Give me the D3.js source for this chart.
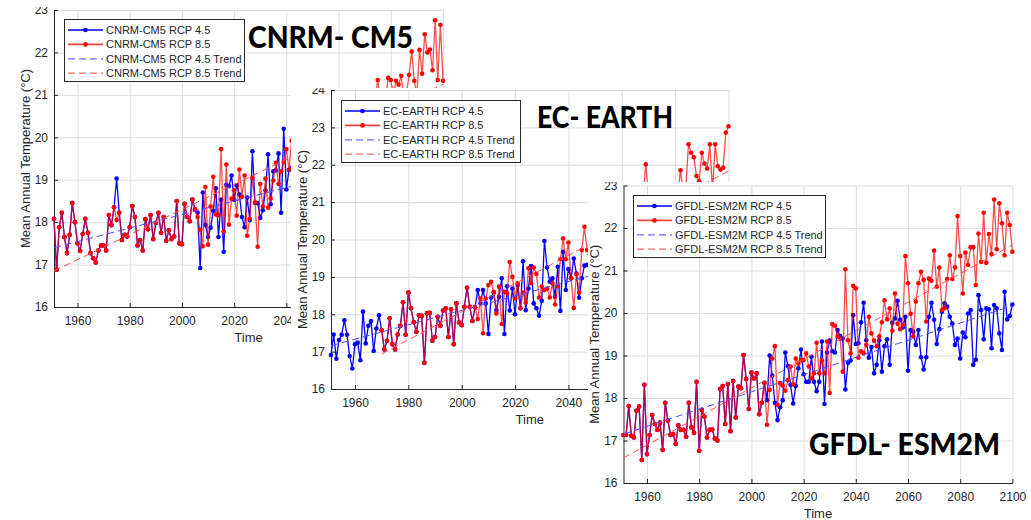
<!DOCTYPE html>
<html lang="en">
<head>
<meta charset="utf-8">
<title>Mean annual temperature, three models</title>
<script src="https://cdn.jsdelivr.net/npm/d3@7"></script>
<style>
  body { margin: 0; background: #fff; }
  svg { display: block; }
  .lbl { font-family: "Liberation Sans", Arial, sans-serif; fill: #262626; }
  .title { font-family: Lato, "Open Sans", sans-serif; font-weight: 900; fill: #000; }
</style>
</head>
<body>
<svg id="chart"></svg>
<script>
// ---- data ----
const xTicks = [1960, 1980, 2000, 2020, 2040, 2060, 2080, 2100];
const trendYears = [1951, 2100];
const ecTrend85Years = [1970, 2100];

// CNRM-CM5: historical 1951-2005 (4.5 and 8.5 runs differ only in 1975)
const cnrmHist45 = [18.08,16.88,17.88,18.22,17.65,17.27,17.70,18.45,18.00,17.50,
  17.32,17.72,18.08,17.75,17.27,17.15,17.05,17.33,17.45,17.45,
  17.33,18.17,17.93,18.35,19.03,18.22,17.58,17.70,17.66,17.88,
  18.38,18.12,17.45,17.58,17.33,18.07,17.83,18.17,17.60,17.98,
  18.22,17.75,18.12,17.56,17.81,17.60,17.66,18.50,17.50,17.48,
  18.43,18.12,18.02,18.53,18.30];
const cnrmHist85 = [18.08,16.88,17.88,18.22,17.65,17.27,17.70,18.45,18.00,17.50,
  17.32,17.72,18.08,17.75,17.27,17.15,17.05,17.33,17.45,17.45,
  17.33,18.17,17.93,18.35,18.05,18.22,17.58,17.70,17.66,17.88,
  18.38,18.12,17.45,17.58,17.33,18.07,17.83,18.17,17.60,17.98,
  18.22,17.75,18.12,17.56,17.81,17.60,17.66,18.50,17.50,17.48,
  18.43,18.12,18.02,18.53,18.30];
// 2006-2043 (rest hidden behind the next panel)
const cnrm45 = [18.22,16.92,18.70,17.93,17.65,17.87,18.27,18.80,17.65,18.53,
  17.30,18.88,18.85,19.10,18.53,18.87,18.65,18.12,17.88,18.58,
  18.05,19.67,18.45,18.45,18.10,18.28,18.75,19.60,18.42,19.20,
  19.22,19.62,18.22,20.20,18.77,19.23,19.28,19.06];
const cnrm85 = [18.12,17.82,17.43,18.83,17.47,18.37,19.07,18.18,18.17,19.72,
  17.78,19.36,17.94,18.55,18.75,18.15,19.24,18.60,19.10,17.68,
  18.08,19.04,18.47,17.42,18.90,18.37,19.03,18.34,18.56,18.98,
  19.40,18.90,19.20,19.42,19.72,19.24,19.92,19.50];
// 2074-2100, the part that shows above the EC-EARTH panel
const cnrm85Late = [20.90,21.35,20.90,21.00,20.90,21.40,21.35,21.00,21.33,21.24,
  21.45,20.90,21.00,21.47,22.02,21.33,21.00,22.06,21.50,22.43,
  22.00,22.07,21.58,22.76,21.35,22.65,21.33];
const cnrmTrend45 = [17.40, 19.77];
const cnrmTrend85 = [16.85, 21.25];

// EC-EARTH: historical 1951-2005 (the 8.5 run starts in 1970)
const ecHist = [16.91,17.46,16.81,17.31,17.45,17.84,17.45,16.88,16.55,17.20,
  17.24,16.77,18.07,17.22,17.69,17.82,17.02,17.62,17.97,17.57,
  17.06,17.29,17.89,17.20,17.06,17.46,17.69,18.32,17.45,18.58,
  18.16,17.79,17.53,17.97,17.96,16.70,18.03,18.04,17.29,17.39,
  17.93,17.69,18.10,18.16,17.39,18.13,17.20,18.29,17.78,17.71,
  18.20,18.71,18.20,17.82,18.18];
// 2006-2047
const ec45 = [18.65,18.30,18.65,18.29,17.47,18.45,18.58,18.11,18.47,18.96,
  17.47,18.75,18.10,18.69,18.00,18.78,18.16,19.42,18.11,18.69,
  19.29,18.29,18.16,17.96,18.36,19.96,19.25,18.87,18.96,18.47,
  19.27,18.09,19.67,18.65,19.21,18.96,19.49,19.09,18.44,18.96,
  19.30,19.32];
// 2006-2048
const ec85 = [17.87,18.42,17.49,18.42,18.78,18.87,18.60,18.02,18.74,17.74,
  18.60,18.56,19.40,19.00,18.42,18.83,18.16,18.58,18.31,19.23,
  18.83,19.25,19.08,18.45,18.74,18.65,18.69,18.45,18.83,18.26,
  18.75,19.47,20.03,19.47,19.92,18.96,18.17,19.07,18.58,19.72,
  20.34,19.72,19.60];
const ec85Mid = [21.20,22.01,21.20];            // 2068-2070
const ec85Late = [21.20,21.85,21.30,21.40,22.55,22.32,22.20,21.70,21.56,22.32,
  22.03,21.90,22.55,21.30,22.55,21.96,21.87,21.92,22.86,23.03]; // 2081-2100
const ecTrend45 = [17.16, 20.03];
const ecTrend85 = [16.94, 21.83];

// GFDL-ESM2M: historical 1951-2005 shared by both runs
const gfdlHist = [17.13,17.13,17.81,17.11,17.07,17.70,17.80,16.54,18.31,16.68,
  17.13,17.60,17.39,17.25,17.42,16.78,17.89,17.47,17.13,17.15,
  16.92,17.36,17.25,17.25,17.09,17.89,17.31,17.18,18.38,16.76,
  17.72,17.56,17.07,17.25,17.26,17.05,17.00,18.21,18.28,17.39,
  18.33,17.22,18.40,17.54,18.27,18.23,19.01,18.45,17.74,18.60,
  18.46,18.58,17.62,17.89,18.36];
// 2006-2100
const gfdl45 = [17.95,19.00,18.53,17.89,17.48,17.78,17.95,19.07,18.75,18.31,
  17.87,18.28,18.70,19.14,18.56,18.38,18.38,18.97,18.38,18.16,
  18.38,19.33,17.86,19.07,19.35,19.10,19.07,19.60,19.46,19.40,
  18.20,18.83,18.88,19.95,19.27,19.29,19.78,20.24,19.36,18.95,
  19.20,18.58,18.78,19.36,18.62,19.22,19.38,18.78,19.77,19.87,
  20.29,19.84,19.66,19.91,18.64,19.60,19.56,19.25,19.60,18.96,
  18.67,18.96,19.91,20.24,19.84,19.27,19.62,20.03,20.23,20.15,
  19.91,19.75,19.25,19.40,18.93,19.54,19.43,19.99,20.07,18.78,
  18.90,20.42,20.07,19.38,20.11,20.09,19.17,20.19,20.11,19.52,
  19.13,20.50,19.85,19.93,20.20];
const gfdl85 = [17.37,18.19,18.93,19.22,17.84,18.35,18.29,18.17,18.42,18.74,
  18.32,18.93,18.81,18.89,18.89,19.05,18.74,18.46,18.58,19.30,
  18.58,18.88,18.58,19.33,18.12,19.74,19.70,19.45,19.40,18.62,
  21.03,19.36,19.05,20.64,20.58,18.95,19.10,19.05,19.25,19.91,
  19.52,19.35,19.22,19.45,19.78,20.30,19.85,20.11,19.58,20.46,
  19.75,19.62,19.72,21.34,20.70,19.98,19.45,20.27,20.70,20.97,
  20.78,19.80,20.81,20.76,21.47,20.62,21.07,20.07,20.11,20.80,
  21.36,20.80,21.07,22.28,21.34,20.46,21.42,21.13,21.55,21.55,
  20.66,21.87,21.20,22.36,21.18,21.86,21.39,22.67,21.50,22.58,
  22.11,21.36,22.36,22.07,21.44];
const gfdlTrend45 = [17.15, 20.17];
const gfdlTrend85 = [16.59, 21.60];

// ---- layout ----
const W = 1031, H = 520;
const panels = [
  { name: "CNRM-CM5", title: "CNRM- CM5", yMax: 23,
    hist45: cnrmHist45, hist85: cnrmHist85, red0: 1951, r45: cnrm45, r85: cnrm85,
    extra85: [{ start: 2074, values: cnrm85Late }],
    t45: cnrmTrend45, t85: cnrmTrend85, t85Years: trendYears,
    box: { x: 0, y: 7, w: W, h: H - 7 }, plot: { l: 54, r: 443, t: 10, b: 307 }, coverX: 291,
    legend: { x: 64, y: 19, w: 180 }, head: { x: 248, y: 48, w: 165 } },
  { name: "EC-EARTH", title: "EC- EARTH", yMax: 24,
    hist45: ecHist, hist85: ecHist, red0: 1970, r45: ec45, r85: ec85,
    extra85: [{ start: 2068, values: ec85Mid }, { start: 2081, values: ec85Late }],
    t45: ecTrend45, t85: ecTrend85, t85Years: ecTrend85Years,
    box: { x: 291, y: 88, w: 454, h: 352 }, plot: { l: 331, r: 728.5, t: 90, b: 389 }, coverX: 588,
    legend: { x: 341, y: 100, w: 179 }, head: { x: 537, y: 128, w: 136 } },
  { name: "GFDL-ESM2M", title: "GFDL- ESM2M", yMax: 23,
    hist45: gfdlHist, hist85: gfdlHist, red0: 1951, r45: gfdl45, r85: gfdl85,
    extra85: [],
    t45: gfdlTrend45, t85: gfdlTrend85, t85Years: trendYears,
    box: { x: 588, y: 182, w: 443, h: 338 }, plot: { l: 623.5, r: 1012.4, t: 185.5, b: 483 }, coverX: W,
    legend: { x: 633, y: 195, w: 192 }, head: { x: 809, y: 455, w: 191 } }
];

const BLUE = "#0000ff", RED = "#ff0000";
const AX = "#262626", GRID = "#dedede";

const svg = d3.select("#chart").attr("width", W).attr("height", H);
svg.append("rect").attr("width", W).attr("height", H).attr("fill", "#fff");
const defs = svg.append("defs");

function pts(start, values) {
  return values.map((v, i) => ({ year: start + i, v: v }));
}

panels.forEach(function (p, k) {
  defs.append("clipPath").attr("id", "clip" + k)
    .append("rect")
    .attr("x", p.box.x).attr("y", p.box.y)
    .attr("width", p.box.w).attr("height", p.box.h);

  const g = svg.append("g").attr("clip-path", "url(#clip" + k + ")");
  g.append("rect")
    .attr("x", p.box.x).attr("y", p.box.y)
    .attr("width", p.box.w).attr("height", p.box.h)
    .attr("fill", "#fff");

  const x = d3.scaleLinear().domain([1951, 2100]).range([p.plot.l, p.plot.r]);
  const y = d3.scaleLinear().domain([16, p.yMax]).range([p.plot.b, p.plot.t]);
  const yTicks = d3.range(16, p.yMax + 1);
  const pw = p.plot.r - p.plot.l, ph = p.plot.b - p.plot.t;

  // grid
  g.append("g")
    .attr("transform", "translate(0," + p.plot.b + ")")
    .call(d3.axisBottom(x).tickValues(xTicks).tickSize(-ph).tickFormat(""))
    .call(s => s.select(".domain").remove())
    .selectAll("line").attr("stroke", GRID);
  g.append("g")
    .attr("transform", "translate(" + p.plot.l + ",0)")
    .call(d3.axisLeft(y).tickValues(yTicks).tickSize(-pw).tickFormat(""))
    .call(s => s.select(".domain").remove())
    .selectAll("line").attr("stroke", GRID);

  // axes (MATLAB style: ticks point inward)
  const xa = g.append("g")
    .attr("transform", "translate(0," + p.plot.b + ")")
    .call(d3.axisBottom(x).tickValues(xTicks).tickSize(-4).tickSizeOuter(0).tickPadding(9).tickFormat(d3.format("d")));
  const ya = g.append("g")
    .attr("transform", "translate(" + p.plot.l + ",0)")
    .call(d3.axisLeft(y).tickValues(yTicks).tickSize(-4).tickSizeOuter(0).tickPadding(6).tickFormat(d3.format("d")));
  [xa, ya].forEach(function (a) {
    a.select(".domain").attr("stroke", AX);
    a.selectAll(".tick line").attr("stroke", AX);
    a.selectAll("text").attr("class", "lbl").attr("font-size", 12);
  });
  // year labels that sit fully under the next panel are never seen
  xa.selectAll(".tick text").filter(d => x(d) - 14 > p.coverX).remove();

  g.append("text").attr("class", "lbl")
    .attr("x", (p.plot.l + p.plot.r) / 2).attr("y", p.plot.b + 35)
    .attr("text-anchor", "middle").attr("font-size", 13).text("Time");
  g.append("text").attr("class", "lbl")
    .attr("transform", "translate(" + (p.plot.l - 29) + "," + ((p.plot.t + p.plot.b) / 2) + ") rotate(-90)")
    .attr("text-anchor", "middle").attr("dy", "0.35em").attr("font-size", 13)
    .text("Mean Annual Temperature (°C)");

  // data
  const line = d3.line().x(d => x(d.year)).y(d => y(d.v));
  const blue = [pts(1951, p.hist45).concat(pts(2006, p.r45))];
  const red = [pts(p.red0, p.hist85.slice(p.red0 - 1951)).concat(pts(2006, p.r85))]
    .concat(p.extra85.map(s => pts(s.start, s.values)));

  function series(segs, color, op) {
    const s = g.append("g");
    s.selectAll("path").data(segs).join("path")
      .attr("d", line).attr("fill", "none")
      .attr("stroke", color).attr("stroke-width", 1.3).attr("stroke-opacity", op);
    s.selectAll("circle").data(segs.flat()).join("circle")
      .attr("cx", d => x(d.year)).attr("cy", d => y(d.v))
      .attr("r", 2.3).attr("fill", color);
  }
  series(blue, BLUE, 1);
  series(red, RED, 0.7);

  // trend lines
  const trend = (vals, yrs) => vals.map((v, i) => ({ year: yrs[i], v: v }));
  g.append("path").attr("d", line(trend(p.t45, trendYears)))
    .attr("fill", "none").attr("stroke", "#4d4dff").attr("stroke-width", 1)
    .attr("stroke-dasharray", "7,4");
  g.append("path").attr("d", line(trend(p.t85, p.t85Years)))
    .attr("fill", "none").attr("stroke", "#ff4d4d").attr("stroke-width", 1)
    .attr("stroke-dasharray", "7,4");

  // legend
  const L = p.legend;
  const lg = g.append("g");
  lg.append("rect").attr("x", L.x + 0.5).attr("y", L.y + 0.5)
    .attr("width", L.w).attr("height", 62)
    .attr("fill", "#fff").attr("stroke", AX).attr("stroke-width", 1);
  const entries = [
    { t: p.name + " RCP 4.5", c: BLUE, op: 1, dash: null, dot: true },
    { t: p.name + " RCP 8.5", c: RED, op: 0.75, dash: null, dot: true },
    { t: p.name + " RCP 4.5 Trend", c: "#6b6bff", op: 1, dash: "7,4", dot: false },
    { t: p.name + " RCP 8.5 Trend", c: "#ff6b6b", op: 1, dash: "7,4", dot: false }
  ];
  entries.forEach(function (e, i) {
    const ry = L.y + 11 + i * 14.4;
    lg.append("line").attr("x1", L.x + 4).attr("x2", L.x + 39)
      .attr("y1", ry).attr("y2", ry)
      .attr("stroke", e.c).attr("stroke-width", e.dot ? 1.6 : 1.2)
      .attr("stroke-opacity", e.op).attr("stroke-dasharray", e.dash);
    if (e.dot) {
      lg.append("circle").attr("cx", L.x + 21.5).attr("cy", ry).attr("r", 2.3).attr("fill", e.c);
    }
    lg.append("text").attr("class", "lbl")
      .attr("x", L.x + 42).attr("y", ry).attr("dy", "0.36em")
      .attr("font-size", 11).text(e.t);
  });

  // big panel title
  g.append("text").attr("class", "title")
    .attr("x", p.head.x).attr("y", p.head.y)
    .attr("font-size", 30)
    .attr("textLength", p.head.w).attr("lengthAdjust", "spacingAndGlyphs")
    .text(p.title);
});
</script>
</body>
</html>
